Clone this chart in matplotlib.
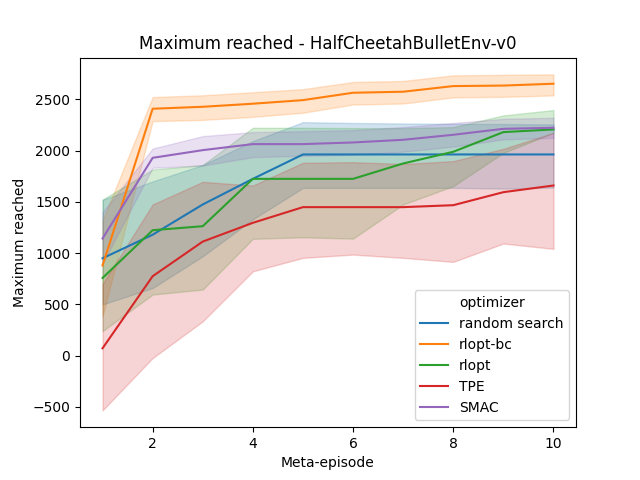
import matplotlib
matplotlib.use("Agg")
import matplotlib.pyplot as plt

episodes = [1, 2, 3, 4, 5, 6, 7, 8, 9, 10]

# mean curves
random_search = [950, 1180, 1475, 1725, 1963, 1963, 1963, 1963, 1963, 1963]
rlopt_bc = [880, 2409, 2428, 2458, 2493, 2565, 2575, 2630, 2635, 2653]
rlopt = [758, 1224, 1263, 1725, 1725, 1725, 1875, 1989, 2181, 2207]
tpe = [72, 775, 1113, 1296, 1449, 1449, 1449, 1468, 1595, 1660]
smac = [1143, 1930, 2005, 2064, 2064, 2080, 2106, 2155, 2213, 2223]

# confidence bands (lower / upper)
random_search_lo = [500, 660, 970, 1330, 1637, 1637, 1637, 1637, 1630, 1640]
random_search_hi = [1520, 1700, 1860, 2093, 2278, 2270, 2265, 2262, 2260, 2256]
rlopt_bc_lo = [384, 2288, 2300, 2330, 2370, 2450, 2460, 2520, 2525, 2539]
rlopt_bc_hi = [1320, 2523, 2540, 2570, 2600, 2670, 2680, 2735, 2740, 2744]
rlopt_lo = [240, 596, 645, 1140, 1155, 1142, 1475, 1654, 1979, 2174]
rlopt_hi = [1523, 1816, 1860, 2223, 2223, 2220, 2220, 2230, 2344, 2396]
tpe_lo = [-534, -23, 335, 823, 954, 986, 954, 915, 1094, 1042]
tpe_hi = [700, 1475, 1696, 1660, 1882, 1888, 1870, 1898, 2018, 2174]
smac_lo = [900, 1833, 1855, 1937, 1950, 1960, 1990, 2040, 2110, 2125]
smac_hi = [1400, 2021, 2142, 2181, 2190, 2200, 2230, 2270, 2310, 2321]

series = [
    ("random search", random_search, random_search_lo, random_search_hi, "#1f77b4"),
    ("rlopt-bc", rlopt_bc, rlopt_bc_lo, rlopt_bc_hi, "#ff7f0e"),
    ("rlopt", rlopt, rlopt_lo, rlopt_hi, "#2ca02c"),
    ("TPE", tpe, tpe_lo, tpe_hi, "#d62728"),
    ("SMAC", smac, smac_lo, smac_hi, "#9467bd"),
]

fig, ax = plt.subplots(figsize=(6.4, 4.8), dpi=100)

for name, mean, lo, hi, color in series:
    ax.plot(episodes, mean, color=color, linewidth=1.5, label=name)
    ax.fill_between(episodes, lo, hi, color=color, alpha=0.2, linewidth=1)

ax.set_xticks([2, 4, 6, 8, 10])
ax.set_title("Maximum reached - HalfCheetahBulletEnv-v0")
ax.set_xlabel("Meta-episode")
ax.set_ylabel("Maximum reached")

leg = ax.legend(title="optimizer", loc="lower right")

plt.savefig("out.png", dpi=100)
plt.close()
